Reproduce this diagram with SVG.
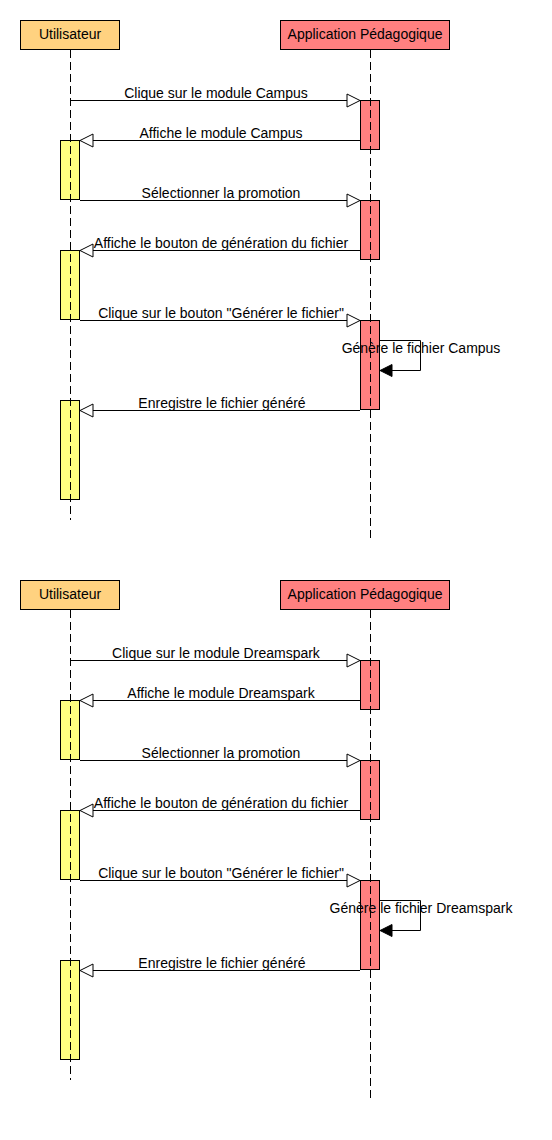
<svg xmlns="http://www.w3.org/2000/svg" width="552" height="1140" viewBox="0 0 552 1140">
<style>
text{font-family:"Liberation Sans",Arial,sans-serif;font-size:14px;fill:#000;text-anchor:middle}
.actU{fill:#FFD280;stroke:#000;stroke-width:1}
.actA{fill:#FF8080;stroke:#000;stroke-width:1}
.actvU{fill:#FFFF80;stroke:#000;stroke-width:1}
.actvA{fill:#FF8080;stroke:#000;stroke-width:1}
.life{stroke:#000;stroke-width:1;stroke-dasharray:8 4;fill:none}
.msg{stroke:#000;stroke-width:1;fill:none}
.open{fill:#fff;stroke:#000;stroke-width:1}
.fill{fill:#000;stroke:#000;stroke-width:1}
</style>
<rect width="552" height="1140" fill="#fff"/>
<g id="diagram-campus">
  <g id="actor-utilisateur-1">
    <rect class="actU" x="20.5" y="20.5" width="99" height="29"/>
    <text x="70" y="39">Utilisateur</text>
  </g>
  <g id="actor-application-1">
    <rect class="actA" x="280.5" y="20.5" width="169" height="29"/>
    <text x="365" y="39">Application Pédagogique</text>
  </g>
  <g id="activations-1">
    <rect class="actvA" x="360.5" y="100.5" width="19" height="49"/>
    <rect class="actvA" x="360.5" y="200.5" width="19" height="59"/>
    <rect class="actvA" x="360.5" y="320.5" width="19" height="89"/>
    <rect class="actvU" x="60.5" y="140.5" width="19" height="59"/>
    <rect class="actvU" x="60.5" y="250.5" width="19" height="69"/>
    <rect class="actvU" x="60.5" y="400.5" width="19" height="99"/>
  </g>
  <g id="lifelines-1">
    <line class="life" x1="70.5" y1="50" x2="70.5" y2="520"/>
    <line class="life" x1="370.5" y1="50" x2="370.5" y2="538"/>
  </g>
  <g id="connectors-1">
    <line class="msg" x1="70.5" y1="100.5" x2="347" y2="100.5"/>
    <polygon class="open" points="360,100.5 347,94 347,107"/>
    <text x="216" y="98">Clique sur le module Campus</text>

    <line class="msg" x1="360" y1="140.5" x2="93" y2="140.5"/>
    <polygon class="open" points="80,140.5 93,134 93,147"/>
    <text x="221" y="138">Affiche le module Campus</text>

    <line class="msg" x1="80" y1="200.5" x2="347" y2="200.5"/>
    <polygon class="open" points="360,200.5 347,194 347,207"/>
    <text x="221" y="198">Sélectionner la promotion</text>

    <line class="msg" x1="360" y1="250.5" x2="93" y2="250.5"/>
    <polygon class="open" points="80,250.5 93,244 93,257"/>
    <text x="221" y="248">Affiche le bouton de génération du fichier</text>

    <line class="msg" x1="80" y1="320.5" x2="347" y2="320.5"/>
    <polygon class="open" points="360,320.5 347,314 347,327"/>
    <text x="221" y="318">Clique sur le bouton "Générer le fichier"</text>

    <path class="msg" d="M380 340.5 H420.5 V370.5 H392"/>
    <polygon class="fill" points="380,370.5 392,364.5 392,376.5"/>
    <text x="421" y="353">Génère le fichier Campus</text>

    <line class="msg" x1="360" y1="410.5" x2="93" y2="410.5"/>
    <polygon class="open" points="80,410.5 93,404 93,417"/>
    <text x="222" y="408">Enregistre le fichier généré</text>
  </g>
</g>
<g id="diagram-dreamspark" transform="translate(0,560)">
  <g id="actor-utilisateur-2">
    <rect class="actU" x="20.5" y="20.5" width="99" height="29"/>
    <text x="70" y="39">Utilisateur</text>
  </g>
  <g id="actor-application-2">
    <rect class="actA" x="280.5" y="20.5" width="169" height="29"/>
    <text x="365" y="39">Application Pédagogique</text>
  </g>
  <g id="activations-2">
    <rect class="actvA" x="360.5" y="100.5" width="19" height="49"/>
    <rect class="actvA" x="360.5" y="200.5" width="19" height="59"/>
    <rect class="actvA" x="360.5" y="320.5" width="19" height="89"/>
    <rect class="actvU" x="60.5" y="140.5" width="19" height="59"/>
    <rect class="actvU" x="60.5" y="250.5" width="19" height="69"/>
    <rect class="actvU" x="60.5" y="400.5" width="19" height="99"/>
  </g>
  <g id="lifelines-2">
    <line class="life" x1="70.5" y1="50" x2="70.5" y2="520"/>
    <line class="life" x1="370.5" y1="50" x2="370.5" y2="538"/>
  </g>
  <g id="connectors-2">
    <line class="msg" x1="70.5" y1="100.5" x2="347" y2="100.5"/>
    <polygon class="open" points="360,100.5 347,94 347,107"/>
    <text x="216" y="98">Clique sur le module Dreamspark</text>

    <line class="msg" x1="360" y1="140.5" x2="93" y2="140.5"/>
    <polygon class="open" points="80,140.5 93,134 93,147"/>
    <text x="221" y="138">Affiche le module Dreamspark</text>

    <line class="msg" x1="80" y1="200.5" x2="347" y2="200.5"/>
    <polygon class="open" points="360,200.5 347,194 347,207"/>
    <text x="221" y="198">Sélectionner la promotion</text>

    <line class="msg" x1="360" y1="250.5" x2="93" y2="250.5"/>
    <polygon class="open" points="80,250.5 93,244 93,257"/>
    <text x="221" y="248">Affiche le bouton de génération du fichier</text>

    <line class="msg" x1="80" y1="320.5" x2="347" y2="320.5"/>
    <polygon class="open" points="360,320.5 347,314 347,327"/>
    <text x="221" y="318">Clique sur le bouton "Générer le fichier"</text>

    <path class="msg" d="M380 340.5 H420.5 V370.5 H392"/>
    <polygon class="fill" points="380,370.5 392,364.5 392,376.5"/>
    <text x="421" y="353">Génère le fichier Dreamspark</text>

    <line class="msg" x1="360" y1="410.5" x2="93" y2="410.5"/>
    <polygon class="open" points="80,410.5 93,404 93,417"/>
    <text x="222" y="408">Enregistre le fichier généré</text>
  </g>
</g>
</svg>
